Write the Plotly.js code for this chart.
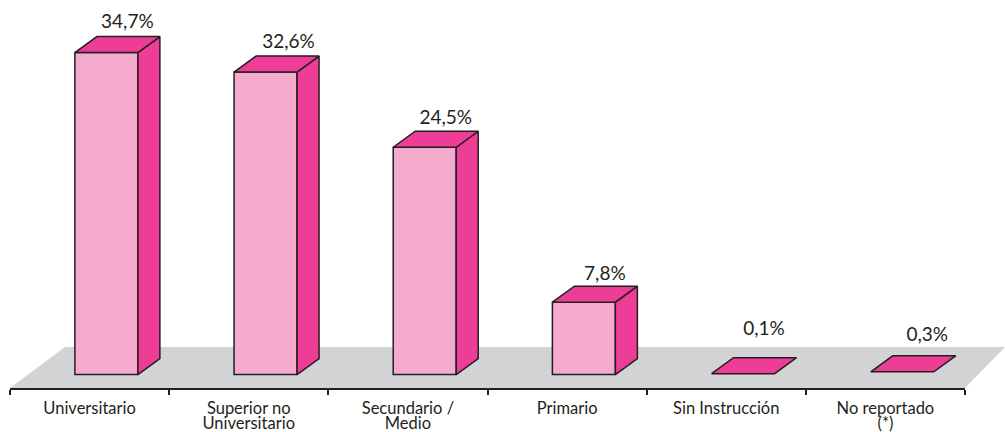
<!DOCTYPE html>
<html><head><meta charset="utf-8">
<script src="https://cdn.plot.ly/plotly-3.0.1.min.js"></script>
<style>html,body{margin:0;padding:0;background:#fff}#c{width:1005px;height:432px}</style>
</head><body><div id="c"></div>
<script>
const categories = ["Universitario","Superior no<br>Universitario","Secundario /<br>Medio","Primario","Sin Instrucción","No reportado<br>(*)"];
const values = [34.7,32.6,24.5,7.8,0.1,0.3];
const valueLabels = ["34,7%","32,6%","24,5%","7,8%","0,1%","0,3%"];
// label offset from the top-front centre of each bar, in px (right, up)
const labelShiftX = [21,23,21,21,21,25];
const labelShiftY = [29,29,28,27,43,36];

const W=1005,H=432,L=10,R=965,AXY=388,ZERO=374.6,PXU=9.28;
const unitX=(R-L)/categories.length;
const barShift=16.8/unitX, barWidth=63/unitX;
const depthX=22/unitX, depthY=16/PXU;
const DARK="#231f20",LIGHT="#f5abcd",PINK="#ee3d96",FLOOR="#d1d3d4";
const idx=categories.map((_,i)=>i);
const FLAT=1; // bars this small show only their top face

const sideX=[],sideY=[],topX=[],topY=[];
values.forEach((v,i)=>{
  const l=i+barShift-barWidth/2, r=i+barShift+barWidth/2;
  if(v>=FLAT){sideX.push(r,r+depthX,r+depthX,r,r,null); sideY.push(0,depthY,v+depthY,v,0,null);}
  topX.push(l,l+depthX,r+depthX,r,l,null);  topY.push(v,v+depthY,v+depthY,v,v,null);
});
const face=(x,y,c,w)=>({type:'scatter',mode:'lines',x,y,fill:'toself',fillcolor:c,
  line:{color:DARK,width:w},hoverinfo:'skip',showlegend:false});
const traces=[
 {type:'bar',x:idx.map(i=>i+barShift),y:values,width:barWidth,
  marker:{color:LIGHT,opacity:values.map(v=>v>=FLAT?1:0),line:{color:DARK,width:1.5}},hoverinfo:'skip',showlegend:false},
 face(sideX,sideY,PINK,1.5),
 face(topX,topY,PINK,1.5),
 {type:'scatter',mode:'text',x:idx.map(i=>i+barShift+labelShiftX[i]/unitX),
  y:values.map((v,i)=>v+labelShiftY[i]/PXU),text:valueLabels,textposition:'middle center',
  textfont:{family:'Lato, sans-serif',size:19,color:DARK},hoverinfo:'skip',showlegend:false}
];
const px=p=>(p-L)/(R-L), py=p=>(AXY-p)/AXY;
const layout={width:W,height:H,margin:{l:L,r:W-R,t:0,b:H-AXY,pad:0},
 paper_bgcolor:'#fff',plot_bgcolor:'rgba(0,0,0,0)',showlegend:false,barmode:'overlay',
 xaxis:{type:'linear',range:[-0.5,categories.length-0.5],tickmode:'array',tickvals:idx,ticktext:categories,
  ticks:'',showgrid:false,zeroline:false,showline:true,linecolor:DARK,linewidth:2,ticklabelstandoff:4,
  tickfont:{family:'Lato, sans-serif',size:16.5,color:DARK},tickangle:0,
  minor:{tickmode:'array',tickvals:[-0.5,0.5,1.5,2.5,3.5,4.5,5.5],ticks:'outside',ticklen:5,tickwidth:2,tickcolor:DARK,showgrid:false}},
 yaxis:{range:[-(AXY-ZERO)/PXU,ZERO/PXU],visible:false,fixedrange:true},
 shapes:[{type:'path',layer:'below',xref:'paper',yref:'paper',line:{width:0},fillcolor:FLOOR,
  path:`M ${px(10)} ${py(388)} L ${px(65)} ${py(347)} L ${px(1005)} ${py(347)} L ${px(965)} ${py(388)} Z`}]
};
Plotly.newPlot('c',traces,layout,{displayModeBar:false,staticPlot:true}).then(()=>{
  document.querySelectorAll('.xtick text tspan.line').forEach(t=>{
    if(parseFloat(t.getAttribute('dy'))>0) t.setAttribute('dy','0.92em');
  });
});
</script></body></html>
